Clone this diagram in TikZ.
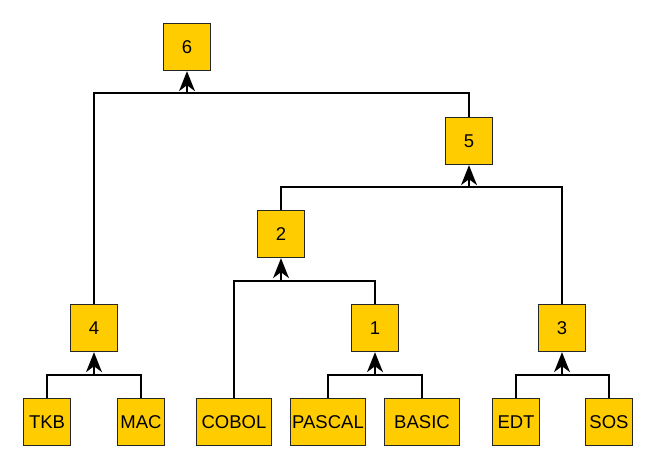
\documentclass[tikz,border=0pt]{standalone}
\usepackage{fontspec}
\setmainfont{Liberation Sans}
\usetikzlibrary{arrows.meta}
\definecolor{boxfill}{HTML}{FFCC00}
\begin{document}
\begin{tikzpicture}[x=1pt,y=-1pt,
  box/.style={draw=black!85,line width=1.4pt,fill=boxfill,minimum height=47pt,inner sep=0pt,
    font=\fontsize{18.5}{21}\selectfont},
  sq/.style={box,minimum width=47pt},
  wide/.style={box,minimum width=75pt},
  conn/.style={draw=black,line width=1.4pt},
  arr/.style={conn,-{Stealth[length=20pt,width=16pt,inset=6pt]}}]
\useasboundingbox (0,0) rectangle (654,468);
\node[sq] (n6) at (187,47) {6};
\node[sq] (n5) at (469,141) {5};
\node[sq] (n2) at (281,234) {2};
\node[sq] (n4) at (94,328) {4};
\node[sq] (n1) at (375,328) {1};
\node[sq] (n3) at (562,328) {3};
\node[sq] (tkb) at (47,422) {TKB};
\node[sq] (mac) at (141,422) {MAC};
\node[wide] (cobol) at (234,422) {COBOL};
\node[wide] (pascal) at (328,422) {PASCAL};
\node[wide] (basic) at (422,422) {BASIC};
\node[sq] (edt) at (516,422) {EDT};
\node[sq] (sos) at (609,422) {SOS};
\coordinate (j4) at (94,375);
\coordinate (j1) at (375,375);
\coordinate (j3) at (562,375);
\coordinate (j2) at (281,281);
\coordinate (j5) at (469,187);
\coordinate (j6) at (187,93);
\draw[conn] (tkb.north) |- (j4) -| (mac.north);
\draw[arr] (j4) -- (n4.south);
\draw[conn] (pascal.north) |- (j1) -| (basic.north);
\draw[arr] (j1) -- (n1.south);
\draw[conn] (edt.north) |- (j3) -| (sos.north);
\draw[arr] (j3) -- (n3.south);
\draw[conn] (cobol.north) |- (j2) -| (n1.north);
\draw[arr] (j2) -- (n2.south);
\draw[conn] (n2.north) |- (j5) -| (n3.north);
\draw[arr] (j5) -- (n5.south);
\draw[conn] (n4.north) |- (j6) -| (n5.north);
\draw[arr] (j6) -- (n6.south);
\end{tikzpicture}
\end{document}
